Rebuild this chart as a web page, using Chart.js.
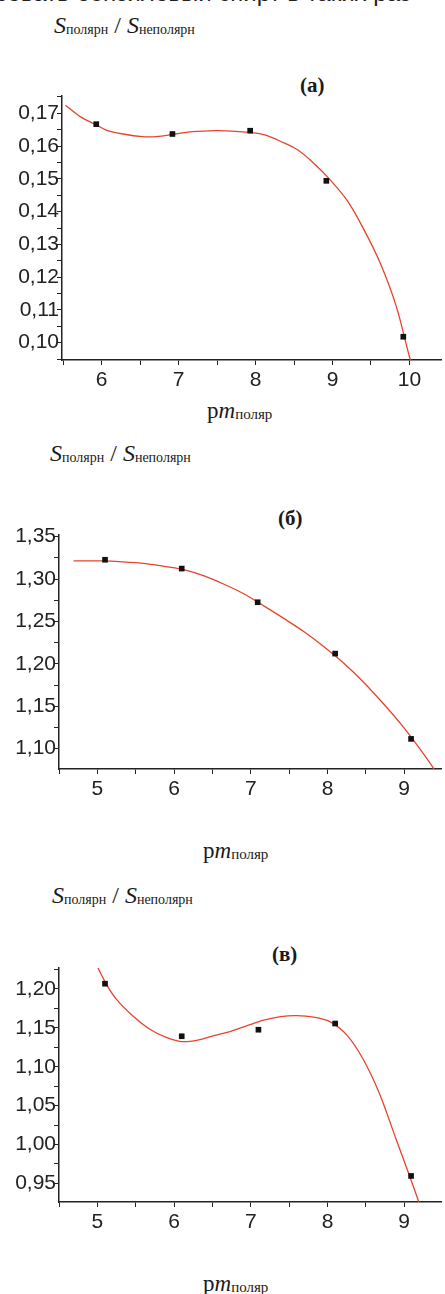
<!DOCTYPE html>
<html>
<head>
<meta charset="utf-8">
<script src="https://cdn.jsdelivr.net/npm/chart.js@4.4.1/dist/chart.umd.min.js"></script>
<style>
    body { margin: 0; width: 445px; height: 1294px; overflow: hidden; background: #fff; position: relative; }
    canvas { position: absolute; left: 0; }
    .txt { position: absolute; white-space: nowrap; color: #1a1a1a; font-family: "Liberation Serif", "Times New Roman", serif; }
    .top { font-family: "Liberation Sans", Arial, sans-serif; font-size: 24px; color: #222; left: -6px; top: -21px; }
    .ylab { font-size: 24px; }
    .ylab i { font-style: italic; }
    .ylab sub { font-size: 14px; vertical-align: -1px; }
    .xlab { font-size: 23px; }
    .xlab sub { font-size: 15px; vertical-align: -1px; }
    .panel { font-size: 21px; font-weight: bold; }
</style>
</head>
<body>
<div class="txt top">ровать бензиловый спирт в таких раз</div>

<div class="txt ylab" style="left:54px; top:12px;"><i>S</i><sub>полярн</sub> / <i>S</i><sub>неполярн</sub></div>
<div class="txt panel" style="left:300px; top:73px;">(а)</div>
<canvas id="chartA" width="445" height="330" style="top:66px;"></canvas>
<div class="txt xlab" style="left:207px; top:398px;">p<i>m</i><sub>поляр</sub></div>

<div class="txt ylab" style="left:50px; top:440px;"><i>S</i><sub>полярн</sub> / <i>S</i><sub>неполярн</sub></div>
<div class="txt panel" style="left:278px; top:506px;">(б)</div>
<canvas id="chartB" width="445" height="300" style="top:505px;"></canvas>
<div class="txt xlab" style="left:203px; top:838px;">p<i>m</i><sub>поляр</sub></div>

<div class="txt ylab" style="left:52px; top:882px;"><i>S</i><sub>полярн</sub> / <i>S</i><sub>неполярн</sub></div>
<div class="txt panel" style="left:272px; top:942px;">(в)</div>
<canvas id="chartC" width="445" height="300" style="top:938px;"></canvas>
<div class="txt xlab" style="left:203px; top:1271px;">p<i>m</i><sub>поляр</sub></div>

<script>
// (а)
const xPointsA = [5.93, 6.92, 7.93, 8.92, 9.92];
const yPointsA = [0.1667, 0.1637, 0.1647, 0.1494, 0.1018];
const xCurveA = [5.53, 5.72, 5.94, 6.06, 6.28, 6.53, 6.71, 6.96, 7.18, 7.48, 7.69, 7.95, 8.12, 8.33, 8.55, 8.76, 8.97, 9.19, 9.40, 9.62, 9.83, 10.0, 10.03];
const yCurveA = [0.1725, 0.1690, 0.1664, 0.1649, 0.1637, 0.1629, 0.1629, 0.1637, 0.1644, 0.1647, 0.1646, 0.1641, 0.1634, 0.1614, 0.1588, 0.1547, 0.1497, 0.1434, 0.1349, 0.1243, 0.1110, 0.0957, 0.0940];
const xTicksA = [6, 7, 8, 9, 10];
const yTicksA = [0.10, 0.11, 0.12, 0.13, 0.14, 0.15, 0.16, 0.17];

// (б)
const xPointsB = [5.10, 6.10, 7.09, 8.10, 9.09];
const yPointsB = [1.3228, 1.3124, 1.2727, 1.2121, 1.1115];
const xCurveB = [4.69, 5.03, 5.33, 5.63, 5.89, 6.15, 6.41, 6.66, 6.92, 7.18, 7.44, 7.70, 7.95, 8.21, 8.47, 8.73, 8.99, 9.20, 9.37, 9.42];
const yCurveB = [1.3214, 1.3214, 1.3204, 1.3183, 1.3148, 1.3106, 1.3033, 1.2936, 1.2821, 1.2678, 1.2531, 1.2375, 1.2204, 1.2009, 1.1783, 1.1529, 1.1254, 1.1003, 1.0784, 1.0700];
const xTicksB = [5, 6, 7, 8, 9];
const yTicksB = [1.10, 1.15, 1.20, 1.25, 1.30, 1.35];

// (в)
const xPointsC = [5.10, 6.10, 7.10, 8.10, 9.09];
const yPointsC = [1.2068, 1.1392, 1.1476, 1.1556, 0.9595];
const xCurveC = [5.00, 5.12, 5.25, 5.46, 5.68, 5.89, 6.10, 6.31, 6.53, 6.74, 6.96, 7.17, 7.39, 7.60, 7.82, 8.03, 8.25, 8.46, 8.68, 8.89, 9.06, 9.19];
const yCurveC = [1.2289, 1.2057, 1.1867, 1.1657, 1.1486, 1.1380, 1.1323, 1.1342, 1.1402, 1.1455, 1.1531, 1.1600, 1.1645, 1.1657, 1.1638, 1.1581, 1.1410, 1.1106, 1.0650, 1.0080, 0.9624, 0.9263];
const xTicksC = [5, 6, 7, 8, 9];
const yTicksC = [0.95, 1.00, 1.05, 1.10, 1.15, 1.20];

function toXY(xs, ys) {
    return xs.map((x, i) => ({ x: x, y: ys[i] }));
}

// major ticks from the array plus a minor one halfway between
function withMinor(majors, min, max) {
    const half = (majors[1] - majors[0]) / 2;
    const out = [];
    for (let i = 0; i < majors.length; i++) {
        const m = majors[i];
        if (i === 0 && m - half >= min) out.push({ value: m - half });
        out.push({ value: m, major: true });
        if (m + half <= max) out.push({ value: m + half });
    }
    return out;
}

function axis(majors, min, max, decimals, fit) {
    return {
        type: 'linear',
        min: min,
        max: max,
        afterBuildTicks: s => { s.ticks = withMinor(majors, min, max); },
        afterFit: fit,
        grid: { drawOnChartArea: false, drawTicks: true, tickLength: 5, color: '#222', lineWidth: 1 },
        border: { color: '#222', width: 1.5 },
        ticks: {
            autoSkip: false,
            maxRotation: 0,
            padding: decimals ? -2 : 3,
            color: '#222',
            font: { family: '"Liberation Sans", Arial, sans-serif', size: 21 },
            callback: function (v, i, ticks) {
                if (!ticks[i].major) return '';
                return decimals ? v.toFixed(decimals).replace('.', ',') : String(Math.round(v));
            }
        }
    };
}

function makeChart(id, pts, curve, xTicks, yTicks, xr, yr, yWidth, padTop, xHeight) {
    const ctx = document.getElementById(id).getContext('2d');
    return new Chart(ctx, {
        type: 'scatter',
        data: {
            datasets: [{
                data: pts,
                pointStyle: 'rect',
                pointRadius: 4,
                backgroundColor: '#111',
                borderWidth: 0,
                showLine: false
            }, {
                data: curve,
                showLine: true,
                pointRadius: 0,
                borderColor: '#e8432b',
                borderWidth: 1.3,
                tension: 0.3,
                fill: false
            }]
        },
        options: {
            responsive: false,
            animation: false,
            layout: { padding: { top: padTop, left: 0, right: 0, bottom: 0 } },
            plugins: { legend: { display: false }, tooltip: { enabled: false } },
            scales: {
                x: axis(xTicks, xr[0], xr[1], 0, s => { s.height = xHeight; }),
                y: axis(yTicks, yr[0], yr[1], 2, s => { s.width = yWidth; })
            }
        }
    });
}

// canvas top 66 -> plot 96..360
makeChart('chartA', toXY(xPointsA, yPointsA), toXY(xCurveA, yCurveA), xTicksA, yTicksA,
    [5.485, 10.41], [0.0947, 0.1753], 62, 30, 36);
// canvas top 505 -> plot 535..799
makeChart('chartB', toXY(xPointsB, yPointsB), toXY(xCurveB, yCurveB), xTicksB, yTicksB,
    [4.50, 9.48], [1.076, 1.352], 59, 30, 36);
// canvas top 938 -> plot 968..1232
makeChart('chartC', toXY(xPointsC, yPointsC), toXY(xCurveC, yCurveC), xTicksC, yTicksC,
    [4.50, 9.48], [0.926, 1.227], 59, 30, 36);
</script>
</body>
</html>
